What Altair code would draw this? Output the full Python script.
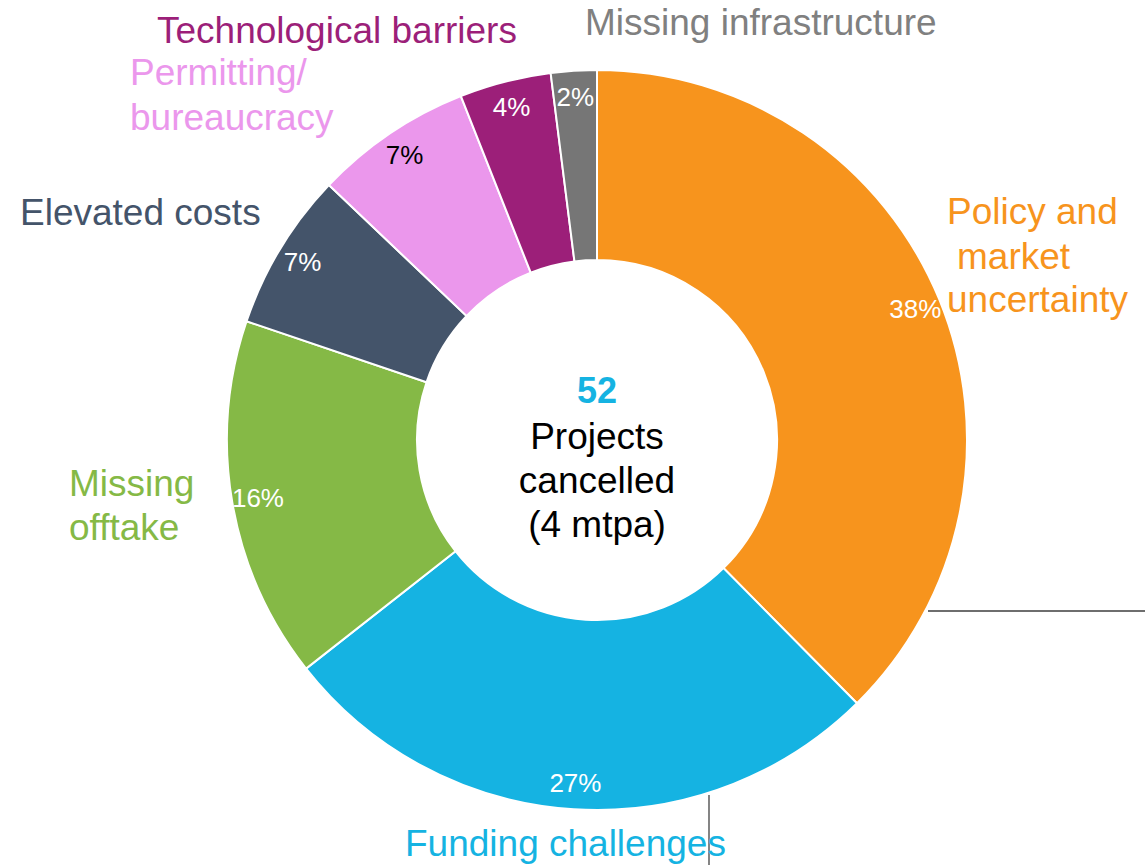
import altair as alt
import pandas as pd

categories = ["Policy and market uncertainty", "Funding challenges", "Missing offtake",
              "Elevated costs", "Permitting/bureaucracy", "Technological barriers",
              "Missing infrastructure"]
shares = [37.6, 26.8, 15.8, 6.9, 6.9, 4.0, 2.0]
pct_labels = ["38%", "27%", "16%", "7%", "7%", "4%", "2%"]
colors = ["#F7941D", "#15B3E2", "#85B946", "#44546A", "#EB97EC", "#9C1F79", "#767676"]

df = pd.DataFrame({"category": categories, "share": shares, "label": pct_labels,
                   "idx": list(range(len(categories)))})

FONT = "Liberation Sans"
CX, CY = 597, 440

base = alt.Chart(df).encode(
    theta=alt.Theta("share:Q", stack=True),
    order=alt.Order("idx:Q"),
)

arcs = base.mark_arc(outerRadius=370, innerRadius=180, stroke="white", strokeWidth=2).encode(
    x=alt.value(CX), y=alt.value(CY),
    color=alt.Color("category:N", scale=alt.Scale(domain=categories, range=colors), legend=None),
)

pct = base.mark_text(font=FONT, fontSize=26, align="center", baseline="middle").encode(
    x=alt.value(CX), y=alt.value(CY + 1),
    radius=alt.value(344),
    text="label:N",
    color=alt.condition(alt.datum.category == "Permitting/bureaucracy",
                        alt.value("black"), alt.value("white")),
)

def txt(s, x, y, color, align="left", size=37, weight="normal"):
    return alt.Chart(pd.DataFrame({"t": [s]})).mark_text(
        font=FONT, fontSize=size, align=align, baseline="middle", fontWeight=weight, color=color
    ).encode(text="t:N", x=alt.value(x), y=alt.value(y + 2))

labels = [
    txt("Technological barriers", 157, 30, "#9C1F79"),
    txt("Missing infrastructure", 585, 22, "#808080"),
    txt("Permitting/", 130, 72, "#EB97EC"),
    txt("bureaucracy", 130, 117, "#EB97EC"),
    txt("Elevated costs", 20, 212, "#44546A"),
    txt("Policy and", 947, 211, "#F7941D"),
    txt("market", 957, 256, "#F7941D"),
    txt("uncertainty", 947, 299, "#F7941D"),
    txt("Missing", 69, 483, "#85B946"),
    txt("offtake", 69, 527, "#85B946"),
    txt("Funding challenges", 405, 843, "#15B3E2"),
    txt("52", CX, 390, "#15B3E2", align="center", size=36, weight="bold"),
    txt("Projects", CX, 436, "black", align="center"),
    txt("cancelled", CX, 480, "black", align="center"),
    txt("(4 mtpa)", CX, 524, "black", align="center"),
]

rules_df = pd.DataFrame({"k": [0]})
hline = alt.Chart(rules_df).mark_rule(color="#6E6E6E", strokeWidth=2).encode(
    x=alt.value(928), x2=alt.value(1145), y=alt.value(611))
vline = alt.Chart(rules_df).mark_rule(color="#333333", strokeWidth=1.2).encode(
    x=alt.value(709), y=alt.value(795), y2=alt.value(865))

chart = alt.layer(arcs, pct, hline, vline, *labels).properties(
    width=1145, height=865, padding=0,
    autosize=alt.AutoSizeParams(type="none"),
).configure_view(stroke=None)

chart.save("out.html", embed_options={"renderer": "svg", "actions": False})
